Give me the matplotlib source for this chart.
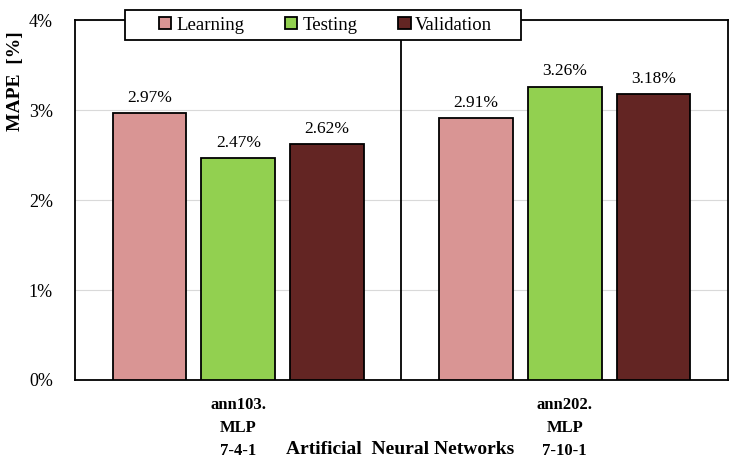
import numpy as np
import matplotlib.pyplot as plt
from matplotlib.ticker import FuncFormatter
from matplotlib.patches import Rectangle

models = ["ann103.\nMLP\n7-4-1", "ann202.\nMLP\n7-10-1"]
series = ["Learning", "Testing", "Validation"]
learning = [2.97, 2.91]
testing = [2.47, 3.26]
validation = [2.62, 3.18]
colors = ["#D99594", "#92D050", "#632523"]

plt.rcParams['font.family'] = ['Liberation Serif', 'DejaVu Serif']

fig = plt.figure(figsize=(7.36, 4.67), dpi=100)
ax = fig.add_axes([0.102, 0.1863, 0.887, 0.7707])

x = np.arange(len(models))
w = 0.226
offs = [-0.272, 0.0, 0.272]
for vals, name, c, o in zip([learning, testing, validation], series, colors, offs):
    bars = ax.bar(x + o, vals, w, color=c, edgecolor="black", linewidth=1.3,
                  label=name, zorder=3)
    for b, v in zip(bars, vals):
        ax.text(b.get_x() + b.get_width() / 2, v + 0.08, f"{v:.2f}%",
                ha="center", va="bottom", fontsize=12.5, zorder=4)

ax.set_xlim(-0.5, 1.5)
ax.set_ylim(0, 4)
ax.set_yticks([0, 1, 2, 3, 4])
ax.yaxis.set_major_formatter(FuncFormatter(lambda v, p: f"{v:.0f}%"))
ax.grid(axis="y", color="#d9d9d9", linewidth=0.8, zorder=0)
ax.axvline(0.5, color="black", linewidth=1.3, zorder=2)
ax.tick_params(axis="y", length=0, labelsize=13, pad=16)
ax.tick_params(axis="x", length=0, pad=12)
ax.set_xticks(x)
ax.set_xticklabels(models, fontsize=12, fontweight="bold", linespacing=1.6)
for s in ax.spines.values():
    s.set_linewidth(1.3)

ax.set_ylabel("MAPE  [%]", fontsize=14, fontweight="bold")
ax.yaxis.set_label_coords(-0.078, 0.83)
fig.text(0.544, 0.02, "Artificial  Neural Networks", ha="center", va="bottom",
         fontsize=14, fontweight="bold")

# legend box drawn separately so its padding can match
box = Rectangle((125 / 736, 1 - 40 / 467), (521 - 125) / 736, 30 / 467,
                transform=fig.transFigure, facecolor="white", edgecolor="black",
                linewidth=1.3, zorder=9, clip_on=False)
ax.add_patch(box)

leg = ax.legend(loc="center", bbox_to_anchor=(0.384, 0.986), ncol=3, fontsize=13.5,
                frameon=False, handlelength=0.65, handleheight=0.65,
                columnspacing=2.2, handletextpad=0.25, borderpad=0.2)
leg.set_zorder(10)

fig.savefig("out.png", dpi=100)
